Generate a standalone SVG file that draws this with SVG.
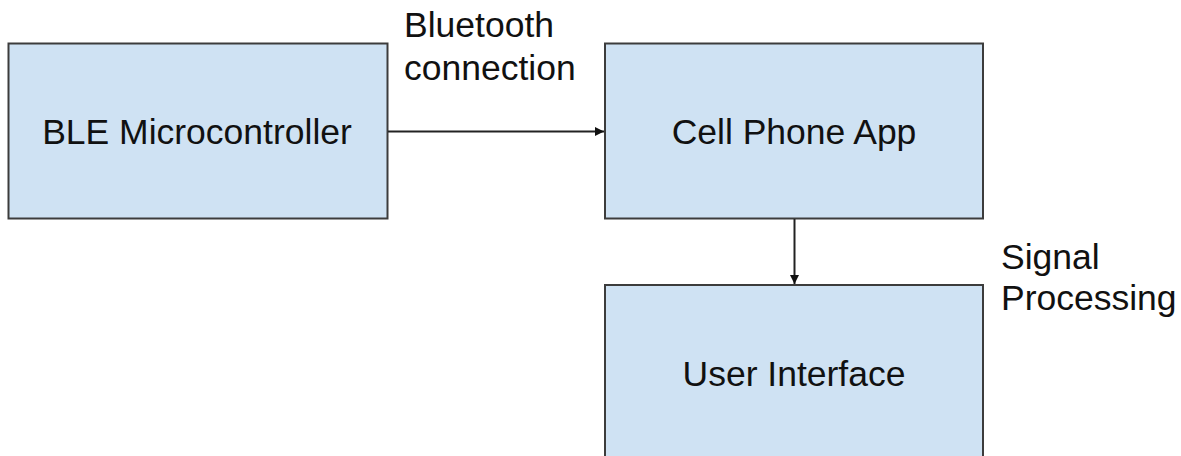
<svg xmlns="http://www.w3.org/2000/svg" width="1181" height="456" viewBox="0 0 1181 456">
  <style>
    .box { fill: #cfe2f3; stroke: #3c3c3c; stroke-width: 2; }
    .label { font-family: "Liberation Sans", Arial, sans-serif; font-size: 35.5px; fill: #111111; }
    .mid { text-anchor: middle; }
    .edge { stroke: #222; stroke-width: 2; fill: none; }
  </style>
  <defs>
    <marker id="arrow" viewBox="0 0 10 10" refX="10" refY="5" markerWidth="10" markerHeight="9" markerUnits="userSpaceOnUse" orient="auto">
      <path d="M0,0 L10,5 L0,10 Z" fill="#111"/>
    </marker>
  </defs>
  <rect width="1181" height="456" fill="#ffffff"/>

  <g id="node-ble">
    <rect class="box" x="8.5" y="43.5" width="379" height="175"/>
    <text class="label mid" x="197" y="144">BLE Microcontroller</text>
  </g>

  <g id="node-app">
    <rect class="box" x="605" y="43.5" width="378" height="175"/>
    <text class="label mid" x="794" y="144">Cell Phone App</text>
  </g>

  <g id="node-ui">
    <rect class="box" x="605" y="285" width="378" height="190"/>
    <text class="label mid" x="794" y="386">User Interface</text>
  </g>

  <g id="connectors">
    <line class="edge" x1="388" y1="131.5" x2="604" y2="131.5" marker-end="url(#arrow)"/>
    <line class="edge" x1="794.5" y1="219" x2="794.5" y2="284" marker-end="url(#arrow)"/>
  </g>

  <g id="edge-labels">
    <text class="label" x="404" y="37">Bluetooth</text>
    <text class="label" x="404" y="80">connection</text>
    <text class="label" x="1001" y="269">Signal</text>
    <text class="label" x="1001" y="310">Processing</text>
  </g>
</svg>
